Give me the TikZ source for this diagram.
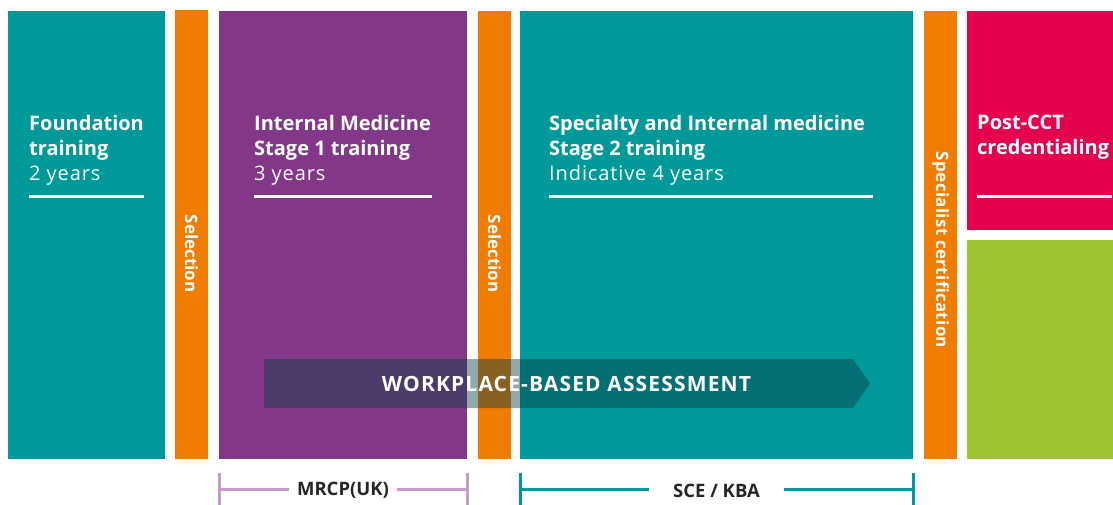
\documentclass[tikz,border=0pt]{standalone}
\usepackage{fontspec}
\setmainfont{Open Sans}
\definecolor{cteal}{RGB}{0,153,153}
\definecolor{corange}{RGB}{240,125,0}
\definecolor{cpurple}{RGB}{131,55,137}
\definecolor{cpink}{RGB}{230,0,80}
\definecolor{cgreen}{RGB}{158,196,50}
\definecolor{clilac}{RGB}{196,155,203}
\definecolor{cband}{RGB}{10,62,72}
\newcommand{\regtext}[1]{{\addfontfeature{LetterSpace=4.5}#1}}
\tikzset{
  head/.style={anchor=north west, inner sep=0pt, align=left, text=white, font=\fontsize{20}{25}\selectfont},
  vlabel/.style={rotate=-90, inner sep=0pt, text=white, font=\fontsize{17}{19}\selectfont\bfseries},
  rule/.style={white, line width=3pt},
  brlabel/.style={inner sep=0pt, font=\fontsize{18.5}{20}\selectfont\bfseries, text=black!85},
  bracket/.style={line width=3pt}
}
\begin{document}
\begin{tikzpicture}[x=1pt,y=-1pt]
\useasboundingbox (0,0) rectangle (1113,505);
% boxes
\fill[cteal] (8,11) rectangle (165,459);
\fill[corange] (175,10) rectangle (208,459);
\fill[cpurple] (219,11) rectangle (467,459);
\fill[corange] (478,11) rectangle (511,459);
\fill[cteal] (520,11) rectangle (913,459);
\fill[corange] (924,11) rectangle (957,459);
\fill[cpink] (967,11) rectangle (1113,230);
\fill[cgreen] (967,240) rectangle (1113,459);
% headings
\node[head] (found) at (29,115) {\textbf{Foundation}\\\textbf{training}\\\regtext{2 years}};
\node[head] (ims1) at (254,115) {\textbf{Internal Medicine}\\\textbf{Stage 1 training}\\\regtext{3 years}};
\node[head] (ims2) at (549,115) {\textbf{Specialty and Internal medicine}\\\textbf{Stage 2 training}\\\regtext{Indicative 4 years}};
\node[head] (post) at (977,115) {\textbf{Post-CCT}\\\textbf{credentialing}};
% underlines
\draw[rule] (29,197) -- (144,197);
\draw[rule] (254,197) -- (432,197);
\draw[rule] (549,197) -- (873,197);
\draw[rule] (977,197) -- (1112,197);
% vertical labels
\node[vlabel] (sel1) at (191.5,253.5) {Selection};
\node[vlabel] (sel2) at (494.5,253.5) {Selection};
\node[vlabel] (spec) at (940.5,250) {\addfontfeature{LetterSpace=2}Specialist certification};
% band
\fill[cband, fill opacity=0.45] (264,359) -- (853,359) -- (870,383.5) -- (853,408) -- (264,408) -- cycle;
\node[inner sep=0pt, text=white, font=\fontsize{21}{23}\selectfont\bfseries] (wba) at (566.5,383.5) {\addfontfeature{LetterSpace=5.5}WORKPLACE-BASED ASSESSMENT};
% brackets
\node[brlabel] (mrcp) at (343,490.5) {MRCP(UK)};
\coordinate (m1) at (219,489);
\coordinate (m2) at (467,489);
\draw[bracket, clilac] (219,473) -- (219,505);
\draw[bracket, clilac] (467,473) -- (467,505);
\draw[bracket, clilac] (m1) -- ([xshift=-8pt]mrcp.west |- m1);
\draw[bracket, clilac] ([xshift=8pt]mrcp.east |- m2) -- (m2);
\node[brlabel] (sce) at (716.5,490.5) {SCE / KBA};
\coordinate (s1) at (520,489);
\coordinate (s2) at (913,489);
\draw[bracket, cteal] (520,473) -- (520,505);
\draw[bracket, cteal] (913,473) -- (913,505);
\draw[bracket, cteal] (s1) -- ([xshift=-24pt]sce.west |- s1);
\draw[bracket, cteal] ([xshift=24pt]sce.east |- s2) -- (s2);
\end{tikzpicture}
\end{document}
